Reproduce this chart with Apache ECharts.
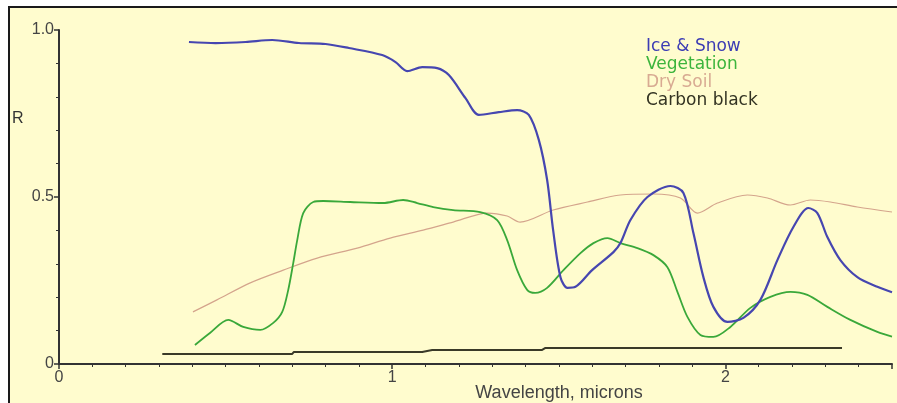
<html lang="en">
<head>
  <meta charset="UTF-8">
  <title>Spectral reflectance</title>
  <style>
    body {
      margin: 0;
      padding: 0;
      background: #ffffff;
    }
    #chart {
      position: absolute;
      left: 8px;
      top: 6px;
      width: 887px;
      height: 395px;
      border-left: 2px solid #1a1a1a;
      border-top: 2px solid #1a1a1a;
    }
  </style>
  <script src="https://cdn.jsdelivr.net/npm/echarts@6/dist/echarts.min.js"></script>
</head>
<body>
  <div id="chart"></div>
  <script>
    // [wavelength (microns), reflectance]
    let iceSnow = [
      [0.39, 0.964], [0.47, 0.961], [0.56, 0.964], [0.64, 0.970], [0.72, 0.961],
      [0.80, 0.958], [0.87, 0.946], [0.97, 0.925], [1.01, 0.904], [1.045, 0.877],
      [1.09, 0.889], [1.135, 0.886], [1.17, 0.865], [1.22, 0.796], [1.26, 0.746],
      [1.32, 0.754], [1.375, 0.760], [1.41, 0.746], [1.44, 0.671], [1.465, 0.551],
      [1.483, 0.401], [1.505, 0.260], [1.526, 0.228], [1.55, 0.231], [1.60, 0.281],
      [1.664, 0.335], [1.685, 0.362], [1.715, 0.431], [1.766, 0.500], [1.835, 0.533],
      [1.874, 0.512], [1.904, 0.392], [1.934, 0.260], [1.964, 0.171], [2.006, 0.126],
      [2.054, 0.138], [2.105, 0.192], [2.156, 0.311], [2.204, 0.410], [2.249, 0.467],
      [2.276, 0.452], [2.306, 0.380], [2.345, 0.311], [2.396, 0.260], [2.456, 0.231],
      [2.50, 0.215]
    ];

    let vegetation = [
      [0.408, 0.057], [0.453, 0.093], [0.508, 0.132], [0.553, 0.111], [0.604, 0.102],
      [0.643, 0.123], [0.670, 0.156], [0.688, 0.222], [0.703, 0.302], [0.715, 0.371],
      [0.733, 0.452], [0.763, 0.485], [0.793, 0.488], [0.874, 0.485], [0.973, 0.482],
      [1.033, 0.491], [1.075, 0.482], [1.123, 0.470], [1.183, 0.461], [1.264, 0.455],
      [1.315, 0.431], [1.345, 0.371], [1.375, 0.281], [1.405, 0.222], [1.429, 0.213],
      [1.465, 0.228], [1.514, 0.281], [1.565, 0.332], [1.604, 0.362], [1.646, 0.377],
      [1.685, 0.362], [1.736, 0.347], [1.784, 0.326], [1.826, 0.290], [1.856, 0.216],
      [1.886, 0.141], [1.925, 0.087], [1.964, 0.081], [2.015, 0.111], [2.075, 0.168],
      [2.135, 0.201], [2.195, 0.216], [2.246, 0.207], [2.306, 0.171], [2.375, 0.132],
      [2.456, 0.096], [2.50, 0.082]
    ];

    let drySoil = [
      [0.402, 0.156], [0.474, 0.192], [0.574, 0.243], [0.673, 0.281], [0.775, 0.317],
      [0.895, 0.347], [0.994, 0.377], [1.093, 0.401], [1.183, 0.425], [1.285, 0.452],
      [1.345, 0.443], [1.384, 0.425], [1.483, 0.461], [1.586, 0.485], [1.685, 0.506],
      [1.784, 0.509], [1.865, 0.497], [1.916, 0.452], [1.976, 0.482], [2.066, 0.506],
      [2.126, 0.497], [2.195, 0.476], [2.255, 0.491], [2.315, 0.485], [2.396, 0.470],
      [2.50, 0.455]
    ];

    let carbonBlack = [
      [0.31, 0.030], [0.70, 0.030], [0.705, 0.036], [1.09, 0.036], [1.12, 0.042],
      [1.45, 0.042], [1.46, 0.048], [2.35, 0.048]
    ];

    let seriesNames = ['Ice & Snow', 'Vegetation', 'Dry Soil', 'Carbon black'];
    let lineColors = ['#4646b0', '#3aa83a', '#d4a48c', '#3a3a28'];
    let legendColors = ['#3c3cb4', '#3cb43c', '#d8aa92', '#333322'];
    let yTickLabels = { 0: '0', 0.5: '0.5', 1: '1.0' };

    let myChart = echarts.init(document.getElementById('chart'));

    let option = {
      backgroundColor: '#fffcce',
      animation: false,
      grid: {
        left: 49,
        right: 5,
        top: 22,
        bottom: 39
      },
      legend: {
        orient: 'vertical',
        left: 626,
        top: 24,
        icon: 'none',
        itemWidth: 0,
        itemHeight: 19,
        itemGap: 0,
        selectedMode: false,
        data: seriesNames.map(function (n, i) {
          return { name: n, textStyle: { color: legendColors[i] } };
        }),
        textStyle: {
          fontFamily: 'DejaVu Sans',
          fontSize: 17
        }
      },
      xAxis: {
        type: 'value',
        min: 0,
        max: 2.5,
        interval: 1,
        axisLine: { lineStyle: { color: '#333', width: 2 } },
        axisTick: { length: 5, lineStyle: { color: '#333', width: 1.5 } },
        minorTick: { show: true, splitNumber: 10, length: 3, lineStyle: { color: '#333' } },
        splitLine: { show: false },
        axisLabel: {
          showMaxLabel: false,
          color: '#444',
          fontFamily: 'Liberation Sans',
          fontSize: 16,
          margin: 6
        }
      },
      yAxis: {
        type: 'value',
        min: 0,
        max: 1,
        interval: 0.5,
        axisLine: { show: true, lineStyle: { color: '#333', width: 2 } },
        axisTick: { show: true, length: 5, lineStyle: { color: '#333', width: 1.5 } },
        minorTick: { show: true, splitNumber: 5, length: 3, lineStyle: { color: '#333' } },
        splitLine: { show: false },
        axisLabel: {
          color: '#444',
          fontFamily: 'Liberation Sans',
          fontSize: 16,
          margin: 5,
          formatter: function (v) {
            return yTickLabels[v] !== undefined ? yTickLabels[v] : '';
          }
        }
      },
      graphic: [
        {
          type: 'text',
          left: 2,
          top: 103,
          style: { text: 'R', fill: '#333', font: '16px "Liberation Sans"' }
        },
        {
          type: 'text',
          x: 549,
          y: 385,
          style: {
            text: 'Wavelength, microns',
            fill: '#444',
            font: '18px "Liberation Sans"',
            align: 'center',
            verticalAlign: 'middle'
          }
        }
      ],
      series: [
        {
          name: seriesNames[0],
          type: 'line',
          data: iceSnow,
          smooth: 0.3,
          showSymbol: false,
          lineStyle: { color: lineColors[0], width: 2.2 },
          itemStyle: { color: lineColors[0] },
          z: 4
        },
        {
          name: seriesNames[1],
          type: 'line',
          data: vegetation,
          smooth: 0.3,
          showSymbol: false,
          lineStyle: { color: lineColors[1], width: 1.8 },
          itemStyle: { color: lineColors[1] },
          z: 3
        },
        {
          name: seriesNames[2],
          type: 'line',
          data: drySoil,
          smooth: 0.3,
          showSymbol: false,
          lineStyle: { color: lineColors[2], width: 1.2 },
          itemStyle: { color: lineColors[2] },
          z: 2
        },
        {
          name: seriesNames[3],
          type: 'line',
          data: carbonBlack,
          showSymbol: false,
          lineStyle: { color: lineColors[3], width: 2 },
          itemStyle: { color: lineColors[3] },
          z: 2
        }
      ]
    };

    myChart.setOption(option);
  </script>
</body>
</html>
